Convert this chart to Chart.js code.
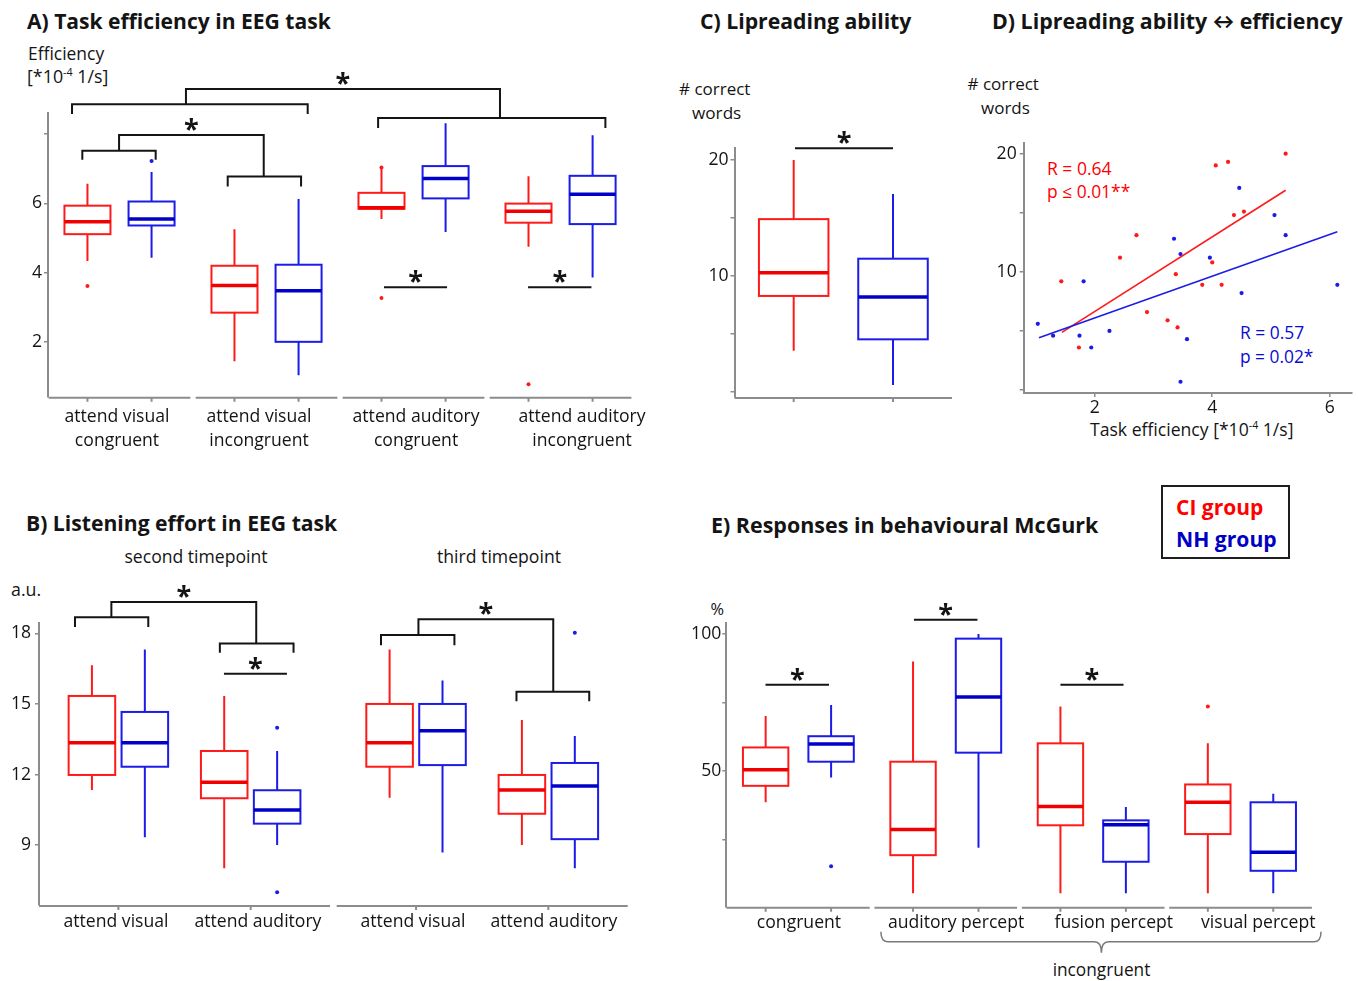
<!DOCTYPE html>
<html lang="en">
<head>
<meta charset="utf-8">
<title>CI vs NH group – EEG task, lipreading and McGurk results</title>
<script src="https://cdn.jsdelivr.net/npm/chart.js@4.4.1/dist/chart.umd.min.js"></script>
<style>
  html, body { margin:0; padding:0; background:#fff; }
  body { position:relative; width:1358px; height:981px; overflow:hidden;
         font-family:'Open Sans', Lato, sans-serif; color:#141414; }
  canvas { position:absolute; }
  .t { position:absolute; white-space:nowrap; line-height:1; font-size:17px; transform:translateY(-53%); }
  .t.c { transform:translate(-50%,-53%); }
  .t.b { font-weight:700; }
  .t sup { font-size:0.6em; line-height:0; vertical-align:0.6em; }
  .red { color:#ff0000; }
  .blue { color:#0a0ad2; }
  .navy { color:#0000c4; }
  #legend { position:absolute; left:1161px; top:485px; width:129px; height:74px;
            box-sizing:border-box; border:2.5px solid #1e1e1e; }
</style>
</head>
<body>

<div class="t b" style="left:27px;top:21px" data-w="304">A) Task efficiency in EEG task</div>
<div class="t" style="left:28px;top:54px" data-w="76">Efficiency</div>
<div class="t" style="left:27px;top:77px" data-w="82">[*10<sup>-4</sup> 1/s]</div>

<div class="t b" style="left:700px;top:21px" data-w="211">C) Lipreading ability</div>
<div class="t" style="left:679px;top:89px" data-w="71">#&nbsp;correct</div>
<div class="t" style="left:692px;top:113px" data-w="49.5">words</div>

<div class="t b" style="left:992px;top:21px" data-w="351">D) Lipreading ability ↔ efficiency</div>
<div class="t" style="left:967.5px;top:84px" data-w="71">#&nbsp;correct</div>
<div class="t" style="left:981px;top:108px" data-w="49">words</div>
<div class="t" style="left:1090px;top:430px" data-w="204">Task efficiency [*10<sup>-4</sup> 1/s]</div>
<div class="t red" style="left:1047px;top:169px" data-w="65">R = 0.64</div>
<div class="t red" style="left:1047px;top:192px" data-w="83">p ≤ 0.01**</div>
<div class="t blue" style="left:1240px;top:333px" data-w="64.5">R = 0.57</div>
<div class="t blue" style="left:1240px;top:357px" data-w="73.5">p = 0.02*</div>

<div class="t b" style="left:26px;top:523px" data-w="311">B) Listening effort in EEG task</div>
<div class="t c" style="left:196px;top:557px" data-w="142.7">second timepoint</div>
<div class="t c" style="left:499px;top:557px" data-w="124.5">third timepoint</div>
<div class="t" style="left:11px;top:590px" data-w="30.4">a.u.</div>

<div class="t b" style="left:711px;top:525px" data-w="387.5">E) Responses in behavioural McGurk</div>
<div id="legend"></div>
<div class="t b red" style="left:1176px;top:508px" data-w="87.7">CI group</div>
<div class="t b navy" style="left:1176px;top:539px" data-w="100.7">NH group</div>
<div class="t" style="left:710.5px;top:610px" data-w="13.5">%</div>
<div class="t c" style="left:1101.5px;top:970px" data-w="97.7">incongruent</div>

<script>
// ---------------------------------------------------------------------------
// Data. Box statistics are [min, q1, median, q3, max] (whisker ends, box, median).
// ---------------------------------------------------------------------------

// A) Task efficiency in EEG task (×10^-4 1/s)
const effConditions = [['attend visual', 'congruent'], ['attend visual', 'incongruent'],
                       ['attend auditory', 'congruent'], ['attend auditory', 'incongruent']];
const effCI = [[4.34, 5.11, 5.47, 5.93, 6.56], [1.45, 2.85, 3.63, 4.20, 5.25],
               [5.55, 5.84, 5.87, 6.30, 7.00], [4.75, 5.44, 5.77, 5.99, 6.78]];
const effNH = [[4.43, 5.36, 5.55, 6.05, 6.90], [1.05, 2.01, 3.48, 4.23, 6.12],
               [5.17, 6.14, 6.71, 7.07, 8.30], [3.86, 5.40, 6.26, 6.79, 7.96]];
const effOutCI = [[3.62], [], [3.27, 7.03], [0.79]];
const effOutNH = [[7.22], [], [], []];
const effTicks = [2, 4, 6, 8];
const effTickLabels = [2, 4, 6];

// B) Listening effort in EEG task (a.u.), second and third timepoint
const effortConditions = ['attend visual', 'attend auditory', 'attend visual', 'attend auditory'];
const effortCI = [[11.34, 11.98, 13.35, 15.34, 16.65], [8.01, 10.99, 11.67, 13.00, 15.34],
                  [11.01, 12.33, 13.35, 15.00, 17.32], [9.00, 10.33, 11.34, 11.98, 14.32]];
const effortNH = [[9.33, 12.33, 13.35, 14.66, 17.32], [9.00, 9.91, 10.49, 11.33, 13.00],
                  [8.68, 12.40, 13.86, 15.00, 16.00], [8.01, 9.25, 11.51, 12.49, 13.64]];
const effortOutCI = [[], [], [], []];
const effortOutNH = [[], [13.99, 6.99], [], [18.03]];
const effortTicks = [9, 12, 15, 18];

// C) Lipreading ability (# correct words)
const lipCI = [3.56, 8.28, 10.28, 14.90, 20.00];
const lipNH = [0.60, 4.54, 8.19, 11.49, 17.07];
const lipTicks = [0, 5, 10, 15, 20];
const lipTickLabels = [10, 20];

// D) Lipreading ability vs task efficiency
const corrCIx = [5.25, 4.06, 4.27, 4.37, 4.54, 2.71, 2.43, 1.43, 4.00, 3.38, 3.83, 4.16, 2.89, 3.24, 3.41, 1.73];
const corrCIy = [20.0, 19.0, 19.3, 14.8, 15.1, 13.1, 11.2, 9.2, 10.8, 9.8, 8.9, 8.9, 6.6, 5.9, 5.3, 3.6];
const corrNHx = [4.46, 5.06, 5.25, 3.35, 3.46, 3.96, 1.81, 4.50, 6.13, 1.03, 1.29, 1.74, 2.25, 1.94, 3.57, 3.46];
const corrNHy = [17.1, 14.8, 13.1, 12.8, 11.5, 11.2, 9.2, 8.2, 8.9, 5.6, 4.6, 4.6, 5.0, 3.6, 4.3, 0.7];
const fitCI = [[1.44, 4.88], [5.25, 16.9]];
const fitNH = [[1.05, 4.42], [6.13, 13.4]];
const corrXTicks = [2, 4, 6];

// E) Responses in behavioural McGurk (%)
const mcgCategories = ['congruent', 'auditory percept', 'fusion percept', 'visual percept'];
const mcgCI = [[38.6, 44.6, 50.5, 58.6, 70.1], [5.4, 19.3, 28.7, 53.4, 90.0],
               [5.4, 30.2, 37.1, 60.1, 73.5], [5.4, 27.0, 38.6, 45.1, 60.1]];
const mcgNH = [[47.6, 53.4, 59.9, 62.7, 74.1], [22.0, 56.7, 77.0, 98.3, 100.0],
               [5.4, 16.9, 30.4, 32.0, 36.9], [5.4, 13.6, 20.4, 38.6, 41.7]];
const mcgOutCI = [[], [], [], [73.5]];
const mcgOutNH = [[15.3], [], [], []];
const mcgTicks = [25, 50, 75, 100];
const mcgTickLabels = [50, 100];

// ---------------------------------------------------------------------------
// Styling
// ---------------------------------------------------------------------------
const FONT = "'Open Sans', Lato, sans-serif";
const INK = '#141414';
const AXIS = '#8c8c8c';
const RED = '#ff1a1a', RED_MED = '#f00000';
const BLUE = '#1c1ce8', BLUE_MED = '#0000c8';

Chart.defaults.font.family = FONT;
Chart.defaults.color = INK;

// size HTML labels so each text run spans its intended width
document.querySelectorAll('[data-w]').forEach(el => {
  const target = parseFloat(el.dataset.w);
  const base = parseFloat(getComputedStyle(el).fontSize);
  const w = el.offsetWidth;
  if (w > 0) el.style.fontSize = (base * target / w).toFixed(2) + 'px';
});

const meas = document.createElement('canvas').getContext('2d');
function fitSize(text, target, weight) {
  meas.font = (weight || '400') + ' 20px ' + FONT;
  return 20 * target / meas.measureText(text).width;
}
const TICK_PX = fitSize('attend visual', 105);

function makeCanvas(left, top, w, h) {
  const c = document.createElement('canvas');
  c.width = w; c.height = h;
  c.style.left = left + 'px'; c.style.top = top + 'px';
  c.style.width = w + 'px'; c.style.height = h + 'px';
  document.body.appendChild(c);
  return c;
}

function yAxis(min, max, ticks, labeled, width, pad) {
  return {
    type: 'linear', min, max,
    afterBuildTicks: s => { s.ticks = ticks.map(v => ({ value: v })); },
    afterFit: s => { s.width = width; },
    ticks: { autoSkip: false, padding: pad, font: { size: TICK_PX }, color: INK,
             callback: v => labeled.includes(v) ? String(v) : '' },
    grid: { drawOnChartArea: false, drawTicks: true, tickLength: 4, color: AXIS, lineWidth: 1.5 },
    border: { display: true, color: AXIS, width: 2 }
  };
}

function xCategoryAxis(min, max, pos, labels, height, pad, lineH) {
  return {
    type: 'linear', min, max,
    afterBuildTicks: s => { s.ticks = pos.map(v => ({ value: v })); },
    afterFit: s => { s.height = height; },
    ticks: { autoSkip: false, maxRotation: 0, minRotation: 0, padding: pad, color: INK,
             font: { size: TICK_PX, lineHeight: lineH + 'px' },
             callback: (v, i) => labels[i] },
    grid: { display: false, drawTicks: false, tickLength: 0 },
    border: { display: false }
  };
}

// outlier points as scatter data at the dodged box position
function outlierData(groups, off, outs) {
  const pts = [];
  outs.forEach((list, i) => list.forEach(v => pts.push({ x: groups[i] + off, y: v })));
  return pts;
}

function drawStar(ctx, cx, lineY) {
  ctx.save();
  ctx.fillStyle = INK;
  ctx.font = '700 27px ' + FONT;
  ctx.textAlign = 'center';
  ctx.textBaseline = 'alphabetic';
  const m = ctx.measureText('*');
  const centre = lineY - 10.5;
  const base = centre + (m.actualBoundingBoxAscent - m.actualBoundingBoxDescent) / 2;
  ctx.fillText('*', cx, base);
  ctx.restore();
}

// box-and-whisker layer, segmented facet axis and significance markers
function boxLayer(spec) {
  return {
    id: 'boxLayer',
    afterDatasetsDraw(chart) {
      const { ctx, chartArea } = chart;
      const xs = chart.scales.x, ys = chart.scales.y;
      const X = v => xs.getPixelForValue(v), Y = v => ys.getPixelForValue(v);
      const bottom = chartArea.bottom;
      ctx.save();
      ctx.lineCap = 'butt';

      // facet axis segments with tick marks
      ctx.strokeStyle = AXIS; ctx.lineWidth = 2;
      ctx.beginPath();
      spec.segments.forEach(([a, b]) => { ctx.moveTo(X(a), bottom + 1); ctx.lineTo(X(b), bottom + 1); });
      spec.tickMarks.forEach(v => { ctx.moveTo(X(v), bottom + 1); ctx.lineTo(X(v), bottom + 5); });
      ctx.stroke();

      // boxes
      spec.series.forEach(s => {
        s.stats.forEach((st, i) => {
          const xc = spec.groups[i] + s.off, hw = spec.boxW / 2;
          const [mn, q1, md, q3, mx] = st;
          const xl = X(xc - hw), xr = X(xc + hw), xm = X(xc);
          ctx.strokeStyle = s.color; ctx.lineWidth = 2;
          ctx.beginPath();
          ctx.moveTo(xm, Y(q3)); ctx.lineTo(xm, Y(mx));
          ctx.moveTo(xm, Y(q1)); ctx.lineTo(xm, Y(mn));
          ctx.stroke();
          ctx.strokeRect(xl, Y(q3), xr - xl, Y(q1) - Y(q3));
          ctx.strokeStyle = s.median; ctx.lineWidth = 3.5;
          ctx.beginPath(); ctx.moveTo(xl, Y(md)); ctx.lineTo(xr, Y(md)); ctx.stroke();
        });
      });

      // significance: nested brackets and plain bars
      ctx.strokeStyle = INK; ctx.lineWidth = 2;
      (spec.brackets || []).forEach(b => {
        const [l, r] = b.kids;
        ctx.beginPath();
        [l, r].forEach(([x1, x2, yv, yl]) => {
          ctx.moveTo(X(x1), Y(yl)); ctx.lineTo(X(x1), Y(yv));
          ctx.lineTo(X(x2), Y(yv)); ctx.lineTo(X(x2), Y(yl));
        });
        const [xa, xb, yt] = b.top;
        ctx.moveTo(X(xa), Y(l[2])); ctx.lineTo(X(xa), Y(yt));
        ctx.lineTo(X(xb), Y(yt)); ctx.lineTo(X(xb), Y(r[2]));
        ctx.stroke();
        drawStar(ctx, (X(xa) + X(xb)) / 2, Y(yt));
      });
      (spec.bars || []).forEach(([x1, x2, yv]) => {
        ctx.beginPath(); ctx.moveTo(X(x1), Y(yv)); ctx.lineTo(X(x2), Y(yv)); ctx.stroke();
        drawStar(ctx, (X(x1) + X(x2)) / 2, Y(yv));
      });

      // curly brace grouping several categories
      if (spec.brace) {
        const [a, b, c] = spec.brace.map(X);
        const y0 = bottom + 25, y1 = bottom + 35, y2 = bottom + 46;
        ctx.strokeStyle = '#7a7a7a'; ctx.lineWidth = 1.5;
        ctx.beginPath();
        ctx.moveTo(a, y0); ctx.quadraticCurveTo(a, y1, a + 7, y1);
        ctx.lineTo(c - 7, y1); ctx.quadraticCurveTo(c, y1, c, y2);
        ctx.quadraticCurveTo(c, y1, c + 7, y1);
        ctx.lineTo(b - 7, y1); ctx.quadraticCurveTo(b, y1, b, y0);
        ctx.stroke();
      }
      ctx.restore();
    }
  };
}

function boxChart(canvas, cfg) {
  const datasets = [
    { data: outlierData(cfg.layer.groups, cfg.layer.series[0].off, cfg.outCI),
      backgroundColor: RED, borderWidth: 0, pointRadius: 2 },
    { data: outlierData(cfg.layer.groups, cfg.layer.series[1].off, cfg.outNH),
      backgroundColor: BLUE, borderWidth: 0, pointRadius: 2 }
  ];
  return new Chart(canvas, {
    type: 'scatter',
    data: { datasets },
    options: {
      responsive: false, animation: false, devicePixelRatio: 1,
      layout: { padding: cfg.padding },
      plugins: { legend: { display: false }, tooltip: { enabled: false } },
      scales: { x: cfg.x, y: cfg.y }
    },
    plugins: [boxLayer(cfg.layer)]
  });
}

// ---------------------------------------------------------------------------
// A) Task efficiency
// ---------------------------------------------------------------------------
{
  const groups = [1, 2, 3, 4];
  boxChart(makeCanvas(0, 60, 680, 400), {
    padding: { top: 53.3, right: 45.5, bottom: 0, left: 0 },
    x: xCategoryAxis(0.5136, 4.503, [0.983, 1.949, 3.017, 4.146], effConditions, 63.3, 8.3, 24),
    y: yAxis(0.43, 8.59, effTicks, effTickLabels, 48, 2),
    outCI: effOutCI, outNH: effOutNH,
    layer: {
      groups, boxW: 0.313,
      series: [{ stats: effCI, off: -0.218, color: RED, median: RED_MED },
               { stats: effNH, off: 0.218, color: BLUE, median: BLUE_MED }],
      segments: groups.map(g => [g - 0.482, g + 0.482]),
      tickMarks: groups.flatMap(g => [g - 0.218, g + 0.218]),
      brackets: [
        { top: [1.452, 3.588, 9.29], kids: [[0.677, 2.28, 8.85, 8.57], [2.759, 4.305, 8.455, 8.17]] },
        { top: [0.997, 1.981, 7.966], kids: [[0.747, 1.246, 7.51, 7.25], [1.736, 2.235, 6.77, 6.48]] }
      ],
      bars: [[2.799, 3.228, 3.58], [3.779, 4.21, 3.58]]
    }
  });
}

// ---------------------------------------------------------------------------
// B) Listening effort (two timepoint facets)
// ---------------------------------------------------------------------------
{
  const groups = [1, 2, 3.25, 4.25];
  boxChart(makeCanvas(0, 570, 680, 370), {
    padding: { top: 53.3, right: 52, bottom: 0, left: 0 },
    x: xCategoryAxis(0.4, 4.852, [0.982, 2.055, 3.227, 4.292], effortConditions, 35, 5, 24),
    y: yAxis(6.45, 18.43, effortTicks, effortTicks, 39, 4),
    outCI: effortOutCI, outNH: effortOutNH,
    layer: {
      groups, boxW: 0.352,
      series: [{ stats: effortCI, off: -0.2, color: RED, median: RED_MED },
               { stats: effortNH, off: 0.2, color: BLUE, median: BLUE_MED }],
      segments: [[0.4, 2.6], [2.65, 4.85]],
      tickMarks: groups,
      brackets: [
        { top: [0.947, 2.042, 19.34], kids: [[0.672, 1.226, 18.69, 18.27], [1.767, 2.324, 17.575, 17.18]] },
        { top: [3.268, 4.287, 18.6], kids: [[2.985, 3.54, 17.93, 17.5], [4.009, 4.559, 15.52, 15.12]] }
      ],
      bars: [[1.798, 2.274, 16.28]]
    }
  });
}

// ---------------------------------------------------------------------------
// C) Lipreading ability
// ---------------------------------------------------------------------------
{
  const groups = [1];
  const cx = xCategoryAxis(0.404, 2.594, [], [], 0, 0, 24);
  cx.display = false;
  boxChart(makeCanvas(680, 120, 300, 300), {
    padding: { top: 28, right: 28, bottom: 23, left: 0 },
    x: cx,
    y: yAxis(-0.43, 21.03, lipTicks, lipTickLabels, 54.5, 2),
    outCI: [[]], outNH: [[]],
    layer: {
      groups, boxW: 0.7,
      series: [{ stats: [lipCI], off: 0, color: RED, median: RED_MED },
               { stats: [lipNH], off: 1, color: BLUE, median: BLUE_MED }],
      segments: [[0.404, 2.594]],
      tickMarks: [1, 2],
      bars: [[1.013, 2.0, 21.0]]
    }
  });
}

// ---------------------------------------------------------------------------
// D) Lipreading ability vs task efficiency
// ---------------------------------------------------------------------------
{
  const pts = (xs, ys) => xs.map((x, i) => ({ x, y: ys[i] }));
  const line = f => f.map(([x, y]) => ({ x, y }));
  const yD = yAxis(-0.25, 20.9, lipTicks, lipTickLabels, 43.7, 3);
  new Chart(makeCanvas(980, 120, 378, 340), {
    type: 'scatter',
    data: {
      datasets: [
        { label: 'NH fit', data: line(fitNH), showLine: true, pointRadius: 0,
          borderColor: BLUE, borderWidth: 1.6 },
        { label: 'CI fit', data: line(fitCI), showLine: true, pointRadius: 0,
          borderColor: RED, borderWidth: 1.6 },
        { label: 'CI group', data: pts(corrCIx, corrCIy), pointRadius: 2.1,
          backgroundColor: RED, borderWidth: 0 },
        { label: 'NH group', data: pts(corrNHx, corrNHy), pointRadius: 2.1,
          backgroundColor: BLUE, borderWidth: 0 }
      ]
    },
    options: {
      responsive: false, animation: false, devicePixelRatio: 1,
      layout: { padding: { top: 23, right: 6, bottom: 0, left: 0 } },
      plugins: { legend: { display: false }, tooltip: { enabled: false } },
      scales: {
        x: {
          type: 'linear', min: 0.79, max: 6.38,
          afterBuildTicks: s => { s.ticks = corrXTicks.map(v => ({ value: v })); },
          afterFit: s => { s.height = 67; },
          ticks: { autoSkip: false, maxRotation: 0, padding: 0, color: INK,
                   font: { size: TICK_PX, lineHeight: 1.2 } },
          grid: { drawOnChartArea: false, drawTicks: true, tickLength: 4, color: AXIS, lineWidth: 1.5 },
          border: { display: true, color: AXIS, width: 2 }
        },
        y: yD
      }
    }
  });
}

// ---------------------------------------------------------------------------
// E) Behavioural McGurk responses
// ---------------------------------------------------------------------------
{
  const groups = [1, 2, 3, 4];
  boxChart(makeCanvas(680, 590, 678, 391), {
    padding: { top: 33.3, right: 47, bottom: 0, left: 0 },
    x: xCategoryAxis(0.511, 4.478, [1.004, 2.07, 3.14, 4.12], mcgCategories, 74.3, 4.6, 24),
    y: yAxis(0.5, 103.9, mcgTicks, mcgTickLabels, 46.3, 1),
    outCI: mcgOutCI, outNH: mcgOutNH,
    layer: {
      groups, boxW: 0.308,
      series: [{ stats: mcgCI, off: -0.222, color: RED, median: RED_MED },
               { stats: mcgNH, off: 0.222, color: BLUE, median: BLUE_MED }],
      segments: groups.map(g => [g - 0.484, g + 0.484]).map((s, i) => i === 0 ? [0.511, s[1]] : s),
      tickMarks: groups.flatMap(g => [g - 0.222, g + 0.222]),
      bars: [[0.777, 1.208, 81.5], [1.784, 2.215, 105.2], [2.778, 3.206, 81.5]],
      brace: [1.56, 4.546, 3.056]
    }
  });
}
</script>
</body>
</html>
